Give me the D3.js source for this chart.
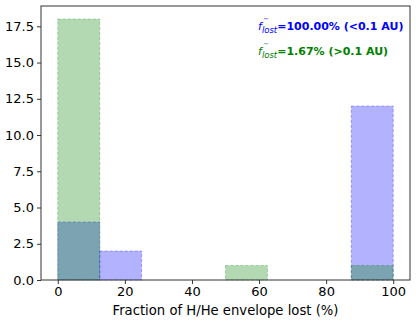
<!DOCTYPE html>
<html>
<head>
<meta charset="utf-8">
<script src="https://cdn.jsdelivr.net/npm/d3@7"></script>
<style>
  body { margin: 0; background: #fff; }
  svg { display: block; font-family: "DejaVu Sans", sans-serif; }
</style>
</head>
<body>
<div id="chart"></div>
<script>
// histogram bins (fraction of envelope lost, %)
const binEdges = [0, 12.5, 25, 37.5, 50, 62.5, 75, 87.5, 100];
const innerCounts = [4, 2, 0, 0, 0, 0, 0, 12];   // < 0.1 AU (blue)
const outerCounts = [18, 0, 0, 0, 1, 0, 0, 1];   // > 0.1 AU (green)
const yTicks = [0, 2.5, 5, 7.5, 10, 12.5, 15, 17.5];
const xTicks = [0, 20, 40, 60, 80, 100];
const labels = [
  {value: "=100.00% (<0.1 AU)", color: "#0000ff"},
  {value: "=1.67% (>0.1 AU)", color: "#008000"}
];

const W = 416, H = 321;
const margin = {top: 6, right: 6, bottom: 41, left: 41};
const width = W - margin.left - margin.right,
    height = H - margin.top - margin.bottom;

const svg = d3.select("#chart").append("svg")
    .attr("width", W)
    .attr("height", H);

const g = svg.append("g")
    .attr("transform", "translate(" + margin.left + "," + margin.top + ")");

const x = d3.scaleLinear().domain([-5, 105]).range([0, width]);
const y = d3.scaleLinear().domain([0, 18.9]).range([height, 0]);

// draw one histogram series
function drawHist(counts, color) {
  const bins = counts.map((c, i) => ({x0: binEdges[i], x1: binEdges[i + 1], c: c}))
      .filter(d => d.c > 0);
  g.append("g").selectAll("rect")
    .data(bins)
    .join("rect")
      .attr("x", d => x(d.x0))
      .attr("y", d => y(d.c))
      .attr("width", d => x(d.x1) - x(d.x0))
      .attr("height", d => y(0) - y(d.c))
      .attr("fill", color)
      .attr("fill-opacity", 0.3)
      .attr("stroke", color)
      .attr("stroke-opacity", 0.3)
      .attr("stroke-width", 1)
      .attr("stroke-dasharray", "3,2");
}
drawHist(innerCounts, "#0000ff");
drawHist(outerCounts, "#008000");

// axes
const xAxis = g.append("g")
    .attr("transform", "translate(0," + height + ")")
    .call(d3.axisBottom(x).tickValues(xTicks).tickSize(4).tickPadding(3).tickFormat(d3.format("d")));
const yAxis = g.append("g")
    .call(d3.axisLeft(y).tickValues(yTicks).tickSize(4).tickPadding(3).tickFormat(d3.format(".1f")));
[xAxis, yAxis].forEach(a => {
  a.select(".domain").remove();
  a.selectAll("text").attr("font-size", 13).attr("fill", "#000").attr("font-family", "DejaVu Sans");
  a.selectAll("line").attr("stroke", "#000").attr("stroke-width", 0.8);
});

// frame
g.append("rect")
    .attr("width", width)
    .attr("height", height)
    .attr("fill", "none")
    .attr("stroke", "#333")
    .attr("stroke-width", 1);

// x label
g.append("text")
    .attr("x", width / 2)
    .attr("y", height + 35)
    .attr("text-anchor", "middle")
    .attr("font-size", 13.2)
    .text("Fraction of H/He envelope lost (%)");

// annotations
labels.forEach((d, i) => {
  const t = g.append("text")
      .attr("x", 217)
      .attr("y", 24 + i * 25)
      .attr("font-size", 11)
      .attr("font-weight", "bold")
      .attr("fill", d.color);
  t.append("tspan").attr("font-style", "italic").attr("font-weight", "normal").text("f");
  t.append("tspan").attr("font-style", "italic").attr("font-weight", "normal")
      .attr("font-size", 8.5).attr("dy", 3).text("lost");
  t.append("tspan").attr("dy", -3).text(d.value);
  // tilde over f
  g.append("text")
      .attr("x", 222)
      .attr("y", 15 + i * 25)
      .attr("font-size", 7)
      .attr("fill", d.color)
      .text("~");
});
</script>
</body>
</html>
